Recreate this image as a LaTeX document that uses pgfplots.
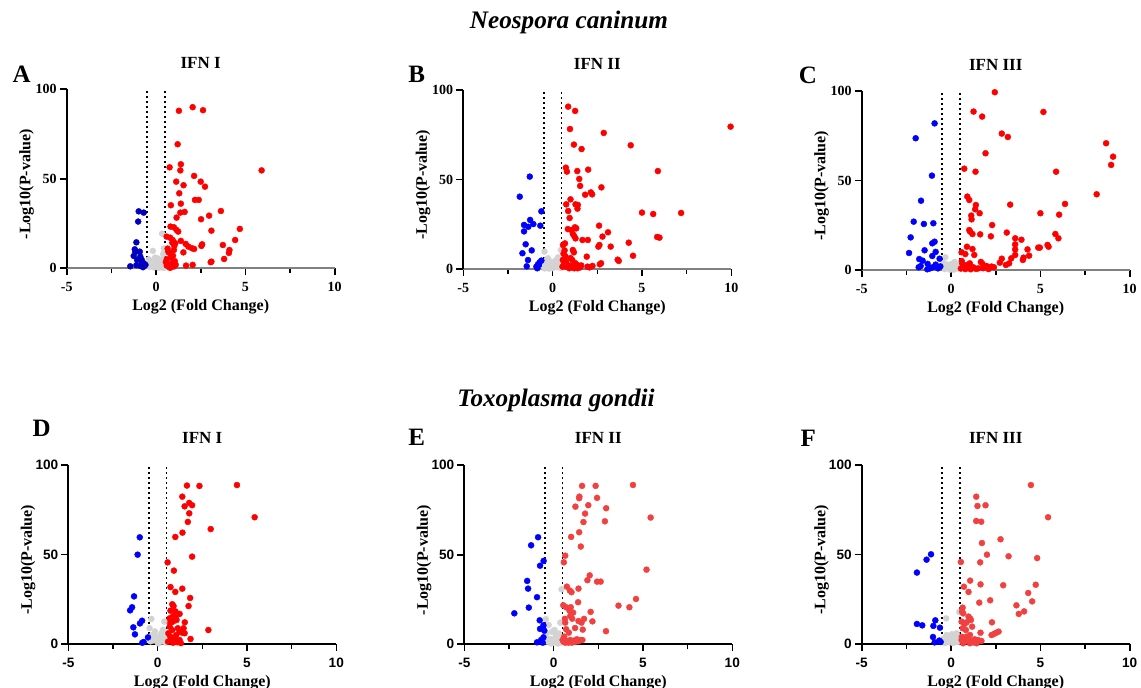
\documentclass[border=0pt]{standalone}
\usepackage{fontspec}
\setmainfont{Liberation Serif}
\newfontfamily\arialfont{Liberation Sans}
\usepackage{pgfplots}
\pgfplotsset{compat=1.18}
\definecolor{upred}{RGB}{255,0,0}
\definecolor{upredb}{RGB}{242,64,64}
\definecolor{dnblue}{RGB}{0,0,255}
\definecolor{dnbluea}{RGB}{0,0,192}
\definecolor{nsgray}{RGB}{211,211,211}

\pgfplotsset{
  volc/.style={
    scale only axis, width=134pt, height=89.5pt,
    anchor=south west,
    xmin=-5, xmax=10, ymin=0, ymax=100, enlargelimits=false, clip=false,
    axis lines=left, axis line style={-, line width=0.9pt},
    xtick={-5,0,5,10}, xticklabels={-5,0,5,10},
    minor xtick={-2.5,2.5,7.5},
    ytick={0,50,100}, yticklabels={0,50,100},
    tick align=outside, major tick length=3.5pt, minor tick length=2.5pt,
    every tick/.style={line width=0.8pt, black},
    yticklabel style={xshift=2pt},
    xlabel={Log2 (Fold Change)}, ylabel={-Log10(P-value)},
    label style={font=\bfseries\fontsize{8}{9}\selectfont},
    xlabel style={at={(axis description cs:0.5,-0.214)}, anchor=center},
    ylabel style={at={(axis description cs:-0.15,0.47)}, anchor=center, rotate=0},
    title style={at={(axis description cs:0.5,1)}, anchor=center, font=\bfseries\fontsize{8.5}{10}\selectfont},
  },
  toprow/.style={volc, x axis line style={gray}, tick label style={font=\bfseries\fontsize{7}{8}\selectfont},
    title style={yshift=7pt}},
  botrow/.style={volc, tick label style={font=\arialfont\bfseries\fontsize{6.8}{8}\selectfont},
    title style={yshift=7.5pt}},
  dots/.style={only marks, mark=*, mark size=1.5pt, color=#1, mark options={solid, fill=#1, draw=#1, line width=0.2pt}},
}
\newcommand{\cutoffs}{%
  \draw[line width=0.9pt, dash pattern=on 0.9pt off 1.6pt] (axis cs:-0.5,0) -- (axis cs:-0.5,100);
  \draw[line width=0.9pt, dash pattern=on 0.9pt off 1.6pt] (axis cs:0.5,0) -- (axis cs:0.5,100);}

\begin{document}
\begin{tikzpicture}
\useasboundingbox (0,0) rectangle (570.5pt,344pt);

\node[font=\bfseries\itshape\fontsize{12.6}{14}\selectfont] at (284.5pt,333pt) {Neospora caninum};
\node[font=\bfseries\itshape\fontsize{12.6}{14}\selectfont] at (278pt,144pt) {Toxoplasma gondii};

\node[font=\bfseries\fontsize{12.5}{14}\selectfont] at (10.85pt,306.75pt) {A};
\node[font=\bfseries\fontsize{12.5}{14}\selectfont] at (208.35pt,306.75pt) {B};
\node[font=\bfseries\fontsize{12.5}{14}\selectfont] at (404pt,306.5pt) {C};
\node[font=\bfseries\fontsize{12.5}{14}\selectfont] at (20.85pt,130pt) {D};
\node[font=\bfseries\fontsize{12.5}{14}\selectfont] at (208.35pt,125.5pt) {E};
\node[font=\bfseries\fontsize{12.5}{14}\selectfont] at (404.15pt,125pt) {F};

% ---------- A: Neospora, IFN I ----------
\begin{axis}[toprow, at={(33.35pt,209.85pt)}, title={IFN I}]
\cutoffs
\addplot[dots=nsgray] coordinates {(0.34,19.4) (-0.18,9.7) (0.44,11) (-0.45,3) (-0.3,1.5) (-0.2,4) (-0.1,0.5) (0,2) (0.1,1) (0.2,3) (0.3,0.5) (0.35,5) (0.45,2) (-0.35,0.8) (0.05,4) (0.15,0.3) (-0.05,6) (0.25,1.8) (0.4,8) (-0.4,5) (0.1,5.5) (-0.25,2.5) (0.3,3.5) (0.45,0.3) (-0.15,1.2)};
\addplot[dots=dnbluea] coordinates {(-0.97,31.8) (-0.69,31.1) (-1.0,26.1) (-1.1,14.5) (-1.19,10.6) (-1.16,9.1) (-0.91,9.3) (-0.88,6.5) (-1.06,4.7) (-0.80,4.7) (-0.69,2.8) (-1.44,1.1) (-1.1,1.7) (-0.88,1.3) (-0.73,0.6) (-0.59,1.9) (-0.78,3.2) (-1.25,6.9)};
\addplot[dots=upred] coordinates {(1.28,88) (2.05,90) (2.63,88.3) (1.21,69.3) (1.39,58.1) (1.36,54.7) (0.76,56.4) (5.91,54.7) (2.13,51.6) (1.13,48.4) (2.50,48.4) (1.54,46.4) (2.74,45.6) (1.30,41.9) (2.18,38.2) (2.39,38.2) (1.39,36.1) (0.83,35.2) (1.36,31.1) (1.60,31.5) (3.63,32.0) (2.97,29.4) (1.15,28.3) (2.52,27.4) (0.81,23.3) (1.0,22.9) (1.15,21.4) (1.24,20.5) (3.10,21.0) (4.69,22.0) (0.59,17.7) (0.79,17.1) (0.93,15.8) (0.91,14.3) (1.08,14.0) (1.39,15.3) (4.43,15.8) (1.66,13.6) (1.81,12.1) (2.01,11.2) (2.13,10.8) (2.58,13.4) (2.54,12.5) (3.74,13.0) (4.11,10.2) (4.08,8.6) (1.53,8.9) (3.81,5.2) (3.10,3.7) (3.06,3.4) (1.68,1.5) (2.05,1.9) (1.0,10.2) (1.02,12.5) (0.6,5) (0.7,2) (0.8,8) (0.9,3) (0.65,11) (0.75,0.5) (0.85,6) (1.0,1) (0.6,1.5) (0.7,9) (1.05,4) (0.95,7) (0.55,3.5) (0.8,0.3) (1.1,2)};
\end{axis}

% ---------- B: Neospora, IFN II ----------
\begin{axis}[toprow, at={(231.65pt,209.5pt)}, title={IFN II}]
\cutoffs
\addplot[dots=nsgray] coordinates {(-0.46,9.7) (0.46,10.6) (-0.26,6) (0.2,5) (-0.4,3) (-0.3,1) (-0.15,2.5) (0,0.5) (0.1,2) (0.25,1) (0.35,3.5) (0.45,0.5) (-0.45,0.3) (-0.05,4) (0.15,3) (0.3,6.5) (0.4,2) (-0.2,0.2) (0.05,1.2) (-0.35,5)};
\addplot[dots=dnblue] coordinates {(-1.28,51.6) (-1.84,40.4) (-0.63,32.2) (-1.26,27.4) (-1.60,24.6) (-1.08,25.1) (-1.36,23.6) (-0.69,24.2) (-1.60,21.0) (-1.51,13.8) (-1.17,10.4) (-1.69,8.8) (-1.38,5.0) (-1.45,1.5) (-0.91,1.3) (-0.82,2.6) (-0.73,3.7) (-0.63,4.7) (-0.86,0.4) (-0.76,2.2)};
\addplot[dots=upred] coordinates {(0.87,90.7) (1.26,88.3) (0.97,78.2) (9.96,79.5) (2.86,76.0) (1.19,69.5) (4.37,69.1) (1.62,67.0) (0.74,56.6) (0.80,54.4) (1.38,54.7) (1.99,55.5) (5.89,54.7) (1.49,50.3) (1.54,46.4) (2.73,45.6) (1.82,41.5) (2.14,42.8) (2.21,41.7) (1.00,38.9) (0.76,36.1) (1.28,36.1) (1.41,35.8) (1.39,33.7) (0.87,32.4) (5.0,31.5) (5.63,30.7) (7.19,31.3) (0.95,28.5) (2.60,24.2) (0.85,22.3) (1.04,21.8) (1.25,23.3) (1.32,22.7) (3.10,20.5) (1.13,19.6) (1.21,18.4) (1.28,17.1) (2.79,18.1) (5.85,17.9) (5.98,17.5) (1.67,16.2) (1.97,16.2) (0.58,13.4) (0.69,14.3) (2.62,13.4) (4.26,14.7) (2.56,12.5) (3.25,12.5) (1.13,10.6) (1.19,9.3) (0.67,10.4) (1.91,6.9) (4.50,7.4) (1.00,6.1) (1.10,5.0) (3.64,5.2) (3.70,4.5) (1.28,3.2) (1.38,2.2) (2.64,2.6) (2.71,3.2) (2.23,1.7) (1.95,1.3) (2.06,0.9) (1.54,0.9) (1.60,2.0) (0.57,5) (0.66,3) (0.75,1.3) (0.84,2.2) (0.93,0.4) (1.03,1.7) (1.12,0.9) (1.21,0.4) (0.72,7) (0.61,8.5) (0.75,4) (1.4,0.4) (0.55,1.3)};
\end{axis}

% ---------- C: Neospora, IFN III ----------
\begin{axis}[toprow, at={(430.85pt,209pt)}, title={IFN III}]
\cutoffs
\addplot[dots=nsgray] coordinates {(-0.32,7.1) (0.2,4.5) (-0.45,2) (-0.35,0.5) (-0.2,3) (-0.1,1) (0,2.5) (0.1,0.4) (0.2,1.5) (0.3,3) (0.4,0.8) (-0.25,1.5) (0.05,3.5) (0.35,2) (-0.4,3.8) (0.15,0.2) (0.45,1.5) (-0.05,0.2)};
\addplot[dots=dnblue] coordinates {(-0.92,81.9) (-1.98,73.6) (-1.07,52.7) (-1.68,38.7) (-2.09,27.0) (-1.52,25.7) (-0.99,26.1) (-2.26,18.2) (-0.92,15.8) (-1.05,14.9) (-1.48,11.0) (-2.35,9.5) (-0.86,10.1) (-1.05,7.8) (-1.78,6.1) (-1.59,5.2) (-0.64,6.3) (-1.31,3.4) (-1.81,1.5) (-1.70,2.2) (-0.86,3.0) (-1.33,0.4) (-1.03,1.5) (-0.73,0.9) (-1.18,0.9) (-0.6,2)};
\addplot[dots=upred] coordinates {(2.45,99.3) (1.26,88.5) (5.17,88.3) (1.74,85.7) (2.84,76.2) (3.18,74.3) (8.68,70.8) (9.07,63.3) (8.96,58.7) (1.93,65.2) (0.74,56.6) (1.37,54.9) (5.88,54.9) (8.15,42.3) (0.91,41.0) (1.02,39.1) (1.39,36.3) (3.31,36.5) (6.38,36.9) (1.35,33.9) (1.60,31.7) (1.13,30.4) (1.15,28.3) (5.0,31.7) (6.05,30.9) (2.30,25.1) (1.02,22.3) (1.07,21.4) (1.20,20.1) (1.63,19.9) (3.12,20.9) (2.23,18.8) (5.84,20.1) (6.01,17.7) (3.59,17.7) (3.94,16.9) (3.59,14.3) (5.40,14.0) (5.46,13.0) (4.88,12.5) (4.97,12.5) (4.28,11.5) (3.59,11.5) (0.89,13.0) (1.20,11.7) (0.59,9.9) (0.80,8.9) (1.30,8.4) (3.59,8.4) (4.37,8.0) (4.06,6.9) (4.02,5.6) (3.37,6.5) (2.84,6.3) (2.73,4.1) (3.25,3.7) (3.07,2.8) (1.67,4.5) (1.76,3.4) (1.99,2.2) (2.27,1.9) (2.40,1.5) (1.52,0.9) (0.87,2.8) (1.05,3.7) (0.6,5) (0.7,1.5) (0.8,0.5) (0.95,1.2) (1.1,0.4) (1.25,1.5) (1.4,0.6) (0.65,3) (2.1,0.5) (1.8,1) (0.55,0.8)};
\end{axis}

% ---------- D: Toxoplasma, IFN I ----------
\begin{axis}[botrow, at={(34.15pt,22pt)}, title={IFN I}]
\cutoffs
\addplot[dots=nsgray] coordinates {(-0.35,14.0) (0.37,12.5) (-0.45,8.8) (-0.3,5) (-0.2,2) (-0.1,4) (0,1) (0.1,3) (0.2,6) (0.3,8) (0.4,4) (-0.4,1.5) (0.05,0.3) (0.25,1.5) (-0.15,7) (0.45,0.8) (0.15,4.5) (-0.05,2.5)};
\addplot[dots=dnblue] coordinates {(-1.0,59.6) (-1.12,49.9) (-1.32,26.6) (-1.43,20.5) (-1.54,18.8) (-0.87,13.0) (-0.99,11.5) (-1.36,9.3) (-1.27,5.4) (-0.54,3.7) (-0.78,1.1) (-0.86,0.7)};
\addplot[dots=upred] coordinates {(1.64,88.5) (2.34,88.3) (4.44,88.8) (1.38,82.3) (1.77,78.8) (1.93,77.5) (1.51,76.9) (1.77,73.0) (5.43,70.8) (1.69,68.2) (2.97,64.2) (1.39,62.2) (0.99,59.8) (1.93,48.8) (0.56,45.6) (0.91,41.0) (0.72,31.8) (1.38,30.9) (0.99,29.1) (1.82,25.7) (0.82,22.2) (0.89,21.2) (1.73,21.2) (0.72,18.6) (1.0,18.2) (1.23,16.8) (0.87,15.6) (1.0,14.9) (0.67,14.3) (1.06,13.4) (1.52,12.1) (0.71,11.9) (0.86,12.5) (2.84,7.8) (1.13,8.8) (1.45,8.8) (1.23,6.9) (1.38,6.3) (1.51,6.0) (0.67,9.7) (0.82,7.8) (0.71,4.1) (1.84,2.8) (1.04,5.0) (1.23,2.2) (0.58,1.3) (0.86,0.7) (0.95,3.2) (0.6,6) (1.1,1) (1.3,0.5) (0.75,2.5)};
\end{axis}

% ---------- E: Toxoplasma, IFN II ----------
\begin{axis}[botrow, at={(232.15pt,21.85pt)}, title={IFN II}]
\cutoffs
\addplot[dots=nsgray] coordinates {(0.44,30.7) (-0.43,14.0) (-0.28,10.8) (0.37,12.1) (-0.4,6) (-0.2,3) (-0.1,7) (0,1) (0.1,4) (0.2,2) (0.3,6) (0.4,1) (-0.35,1.5) (0.05,8) (0.25,0.4) (-0.15,0.5) (0.45,3.5) (-0.45,3) (0.15,5.5)};
\addplot[dots=dnblue] coordinates {(-0.87,59.8) (-1.26,55.3) (-0.56,46.6) (-0.76,43.9) (-1.48,35.4) (-1.43,31.1) (-0.93,26.3) (-1.39,20.5) (-2.20,17.3) (-0.78,13.4) (-0.57,10.6) (-0.76,8.6) (-0.52,7.6) (-0.57,3.9) (-0.93,1.1) (-0.61,0.9) (-0.70,2.4)};
\addplot[dots=upredb] coordinates {(1.59,88.5) (2.35,88.5) (4.44,89.0) (1.44,82.5) (1.43,81.6) (2.43,81.8) (1.94,77.7) (1.22,76.9) (2.94,76.0) (1.76,73.0) (5.43,70.8) (1.67,68.3) (2.87,68.7) (1.43,62.6) (0.98,60.0) (1.52,54.6) (0.65,49.5) (0.57,45.8) (5.20,41.7) (2.02,38.5) (1.89,35.8) (2.43,35.0) (2.63,35.0) (0.74,32.2) (1.39,31.1) (0.91,30.0) (1.0,29.1) (1.37,23.5) (4.61,25.3) (3.63,21.6) (4.24,20.7) (0.54,21.8) (0.70,20.7) (0.96,20.7) (0.89,18.8) (1.09,17.7) (2.07,18.1) (0.93,15.8) (1.04,14.3) (1.70,14.2) (0.63,14.2) (1.39,13.0) (1.56,12.1) (2.17,12.8) (0.65,12.1) (1.20,9.1) (0.70,8.4) (1.63,8.2) (2.93,7.3) (0.85,6.5) (0.59,4.3) (0.50,2.4) (0.55,1.5) (0.74,1.9) (0.93,2.4) (1.11,2.0) (1.30,2.8) (1.48,2.4) (1.61,2.4) (0.65,0.9) (0.83,0.9) (1.02,0.9) (1.20,1.3) (1.39,1.7)};
\end{axis}

% ---------- F: Toxoplasma, IFN III ----------
\begin{axis}[botrow, at={(430.85pt,22pt)}, title={IFN III}]
\cutoffs
\addplot[dots=nsgray] coordinates {(-0.27,14.3) (0.46,17.9) (0.31,6.0) (-0.4,3) (-0.25,5) (-0.1,1) (0,3.5) (0.1,0.5) (0.2,2) (0.35,1) (0.45,4) (-0.35,0.5) (0.05,5.5) (-0.15,2.5) (0.25,3.5) (-0.45,1.5)};
\addplot[dots=dnblue] coordinates {(-1.12,50.1) (-1.37,47.1) (-1.91,39.9) (-1.91,11.2) (-1.61,10.4) (-0.88,13.2) (-0.99,10.1) (-0.62,9.1) (-1.01,3.9) (-0.92,0.9) (-0.66,1.9) (-0.58,1.1)};
\addplot[dots=upredb] coordinates {(4.47,88.8) (1.41,82.3) (1.93,77.5) (1.48,77.1) (5.43,70.8) (1.41,68.7) (1.69,68.3) (2.77,58.5) (1.73,56.4) (2.01,49.9) (3.22,49.0) (4.82,48.0) (0.55,45.8) (1.63,45.6) (1.07,35.4) (0.72,32.0) (1.65,33.3) (2.92,32.8) (4.74,33.1) (0.98,29.1) (4.32,28.5) (2.19,24.4) (4.54,23.8) (1.58,23.1) (3.66,21.6) (4.09,18.2) (3.79,16.8) (0.65,20.3) (0.61,18.1) (0.68,17.1) (0.98,15.3) (1.06,14.3) (1.11,13.4) (0.59,12.5) (0.87,12.1) (2.29,12.1) (0.76,11.2) (1.18,9.7) (0.65,8.8) (0.83,7.8) (1.65,6.3) (2.66,6.9) (2.53,6.3) (2.40,5.6) (2.27,5.0) (1.06,5.0) (0.87,4.1) (0.96,2.2) (0.59,2.2) (0.78,1.3) (1.15,1.7) (1.33,2.6) (1.52,2.2) (1.70,1.7) (0.68,0.4) (1.06,0.4) (1.43,0.4) (0.6,4) (1.25,0.9)};
\end{axis}
\end{tikzpicture}
\end{document}
